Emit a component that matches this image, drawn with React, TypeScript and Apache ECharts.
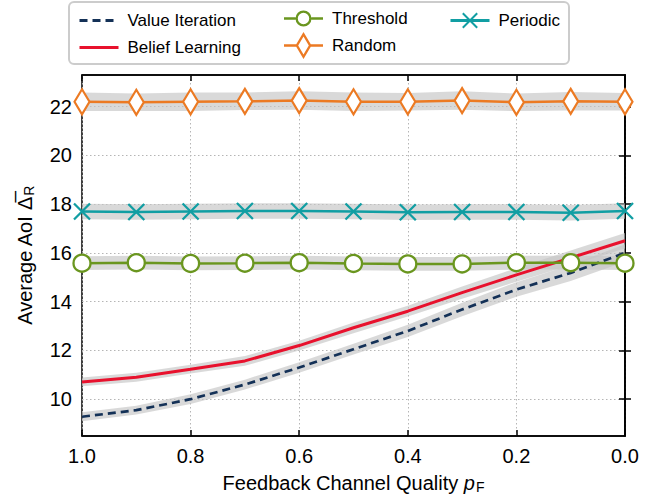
import React, { useEffect, useRef } from 'react';
import * as echarts from 'echarts';

const pF = [1.0, 0.9, 0.8, 0.7, 0.6, 0.5, 0.4, 0.3, 0.2, 0.1, 0.0];
const yTicks = [10, 12, 14, 16, 18, 20, 22];

const valueIteration = [9.28, 9.55, 10.0, 10.6, 11.3, 12.05, 12.8, 13.68, 14.5, 15.18, 16.0];
const valueIterationSpread = [0.18, 0.18, 0.2, 0.2, 0.22, 0.22, 0.25, 0.28, 0.3, 0.33, 0.36];
const beliefLearning = [10.71, 10.9, 11.23, 11.57, 12.2, 12.93, 13.61, 14.37, 15.1, 15.8, 16.5];
const beliefLearningSpread = [0.18, 0.18, 0.18, 0.2, 0.2, 0.22, 0.22, 0.25, 0.28, 0.3, 0.32];
const threshold = [15.58, 15.6, 15.57, 15.58, 15.6, 15.57, 15.55, 15.55, 15.6, 15.6, 15.58];
const thresholdSpread = [0.28, 0.28, 0.28, 0.28, 0.28, 0.28, 0.28, 0.28, 0.28, 0.28, 0.28];
const random = [22.2, 22.18, 22.2, 22.22, 22.25, 22.2, 22.2, 22.25, 22.18, 22.22, 22.2];
const randomSpread = [0.38, 0.36, 0.38, 0.36, 0.38, 0.38, 0.36, 0.38, 0.36, 0.38, 0.36];
const periodic = [17.7, 17.68, 17.7, 17.72, 17.72, 17.7, 17.67, 17.68, 17.68, 17.65, 17.72];
const periodicSpread = [0.32, 0.32, 0.32, 0.32, 0.32, 0.32, 0.32, 0.32, 0.32, 0.32, 0.32];

const FONT = 'Liberation Sans, Arial, Helvetica, sans-serif';
const C_VI = '#143157';
const C_BL = '#e8112d';
const C_TH = '#6a961f';
const C_RA = '#ec7a23';
const C_PE = '#119ea3';
const BAND = '#c4c4c4';

// legend icons (39 x 27 box): line with hollow marker
const ICON_CIRCLE =
  'path://M0,12.2L11.6,12.2L11.6,14.8L0,14.8Z M27.4,12.2L39,12.2L39,14.8L27.4,14.8Z ' +
  'M11.5,13.5A8,8 0 1,1 27.5,13.5A8,8 0 1,1 11.5,13.5Z ' +
  'M13.8,13.5A5.7,5.7 0 1,0 25.2,13.5A5.7,5.7 0 1,0 13.8,13.5Z';
const ICON_DIAMOND =
  'path://M0,12.2L12.3,12.2L12.3,14.8L0,14.8Z M26.7,12.2L39,12.2L39,14.8L26.7,14.8Z ' +
  'M19.5,0L27.5,13.5L19.5,27L11.5,13.5Z ' +
  'M19.5,4.6L14.2,13.5L19.5,22.4L24.8,13.5Z';

function band(key: string, values: number[], spread: number[]) {
  return {
    type: 'custom',
    name: key + '_band',
    silent: true,
    z: 1,
    clip: true,
    data: [[pF[0], values[0]]],
    renderItem: (_params: any, api: any) => {
      const upper = pF.map((x, i) => api.coord([x, values[i] + spread[i]]));
      const lower = pF.map((x, i) => api.coord([x, values[i] - spread[i]])).reverse();
      return {
        type: 'polygon',
        shape: { points: upper.concat(lower) },
        style: { fill: BAND, opacity: 0.65 },
      };
    },
  };
}

export default function App() {
  const ref = useRef<HTMLDivElement>(null);
  useEffect(() => {
    if (!ref.current) return;
    const chart = echarts.init(ref.current, null, { renderer: 'svg' });
    const axisLineStyle = { color: '#000', width: 1.5 };
    const tickStyle = { show: true, inside: true, length: 6, lineStyle: { color: '#000', width: 1.5 } };
    const legendCommon = {
      orient: 'vertical',
      top: 7,
      itemWidth: 39,
      itemHeight: 18,
      itemGap: 10,
      z: 10,
      lineStyle: { width: 3 },
      textStyle: { fontSize: 17, fontFamily: FONT, color: '#000', padding: [0, 0, 0, 4] },
    };
    chart.setOption({
      animation: false,
      backgroundColor: '#fff',
      textStyle: { fontFamily: FONT },
      graphic: [
        {
          type: 'rect',
          left: 68,
          top: 1,
          z: 0,
          shape: { width: 500, height: 62, r: 5 },
          style: { fill: '#fff', stroke: '#cccccc', lineWidth: 2 },
        },
      ],
      legend: [
        {
          ...legendCommon,
          left: 73,
          data: [
            { name: 'Value Iteration', itemStyle: { opacity: 0 } },
            { name: 'Belief Learning', itemStyle: { opacity: 0 } },
          ],
        },
        {
          ...legendCommon,
          left: 279,
          top: 5,
          itemHeight: 27,
          itemGap: 5,
          data: [
            { name: 'Threshold', icon: ICON_CIRCLE, itemStyle: { color: C_TH, borderWidth: 0 } },
            { name: 'Random', icon: ICON_DIAMOND, itemStyle: { color: C_RA, borderWidth: 0 } },
          ],
        },
        { ...legendCommon, left: 444, data: ['Periodic'] },
      ],
      grid: { left: 82, right: 29, top: 75, bottom: 62, show: true, borderColor: '#000', borderWidth: 1.5 },
      xAxis: [
        {
          type: 'value',
          min: 0,
          max: 1,
          interval: 0.2,
          inverse: true,
          position: 'bottom',
          axisLine: { lineStyle: axisLineStyle },
          axisTick: tickStyle,
          axisLabel: { fontSize: 20, color: '#000', margin: 10, fontFamily: FONT, formatter: (v: number) => v.toFixed(1) },
          splitLine: { show: true, lineStyle: { color: '#b5b5b5', type: [1.5, 2.5], width: 1 } },
          name: '{a|Feedback Channel Quality }{i|p}{s|F}',
          nameLocation: 'middle',
          nameGap: 36,
          nameTextStyle: {
            fontSize: 20,
            color: '#000',
            fontFamily: FONT,
            rich: {
              a: { fontSize: 20, fontFamily: FONT, color: '#000' },
              i: { fontSize: 20, fontFamily: FONT, fontStyle: 'italic', color: '#000' },
              s: { fontSize: 14, fontFamily: FONT, color: '#000', padding: [8, 0, 0, 1] },
            },
          },
        },
        {
          type: 'value',
          min: 0,
          max: 1,
          interval: 0.2,
          inverse: true,
          position: 'top',
          axisLine: { lineStyle: axisLineStyle },
          axisTick: tickStyle,
          axisLabel: { show: false },
          splitLine: { show: false },
        },
      ],
      yAxis: [
        {
          type: 'value',
          min: 8.49,
          max: 23.3,
          splitNumber: 7,
          position: 'left',
          axisLine: { show: true, lineStyle: axisLineStyle },
          axisTick: { ...tickStyle, customValues: yTicks },
          axisLabel: { fontSize: 20, color: '#000', margin: 10, fontFamily: FONT, customValues: yTicks },
          splitLine: { show: true, lineStyle: { color: '#b5b5b5', type: [1.5, 2.5], width: 1 } },
          name: '{a|Average AoI }{d|Δ\u0305}{s|R}',
          nameLocation: 'middle',
          nameGap: 46,
          nameTextStyle: {
            fontSize: 20,
            color: '#000',
            fontFamily: FONT,
            rich: {
              a: { fontSize: 20, fontFamily: FONT, color: '#000' },
              d: { fontSize: 20, fontFamily: FONT, color: '#000' },
              s: { fontSize: 14, fontFamily: FONT, color: '#000', padding: [8, 0, 0, 1] },
            },
          },
        },
        {
          type: 'value',
          min: 8.49,
          max: 23.3,
          splitNumber: 7,
          position: 'right',
          axisLine: { show: true, lineStyle: axisLineStyle },
          axisTick: { ...tickStyle, customValues: yTicks },
          axisLabel: { show: false },
          splitLine: { show: false },
        },
      ],
      series: [
        band('vi', valueIteration, valueIterationSpread),
        band('bl', beliefLearning, beliefLearningSpread),
        band('th', threshold, thresholdSpread),
        band('ra', random, randomSpread),
        band('pe', periodic, periodicSpread),
        {
          name: 'Value Iteration',
          type: 'line',
          z: 3,
          symbol: 'none',
          data: pF.map((x, i) => [x, valueIteration[i]]),
          lineStyle: { color: C_VI, width: 2.7, type: [8, 5] },
          itemStyle: { color: C_VI },
        },
        {
          name: 'Belief Learning',
          type: 'line',
          z: 3,
          symbol: 'none',
          data: pF.map((x, i) => [x, beliefLearning[i]]),
          lineStyle: { color: C_BL, width: 3 },
          itemStyle: { color: C_BL },
        },
        {
          name: 'Threshold',
          type: 'line',
          z: 3,
          symbol: 'circle',
          symbolSize: 17,
          showAllSymbol: true,
          data: pF.map((x, i) => [x, threshold[i]]),
          lineStyle: { color: C_TH, width: 2.5 },
          itemStyle: { color: '#fff', borderColor: C_TH, borderWidth: 2.3 },
        },
        {
          name: 'Random',
          type: 'line',
          z: 3,
          symbol: 'diamond',
          symbolSize: [15, 25],
          showAllSymbol: true,
          data: pF.map((x, i) => [x, random[i]]),
          lineStyle: { color: C_RA, width: 2.5 },
          itemStyle: { color: '#fff', borderColor: C_RA, borderWidth: 2.3 },
        },
        {
          name: 'Periodic',
          type: 'line',
          z: 3,
          symbol: 'path://M0,0L10,10M10,0L0,10',
          symbolSize: 16,
          showAllSymbol: true,
          data: pF.map((x, i) => [x, periodic[i]]),
          lineStyle: { color: C_PE, width: 2.5 },
          itemStyle: { color: 'rgba(0,0,0,0)', borderColor: C_PE, borderWidth: 2.3 },
        },
      ],
    });
    return () => chart.dispose();
  }, []);
  return (
    <div
      ref={ref}
      style={{ position: 'fixed', left: 0, top: 0, width: 654, height: 499, background: '#fff' }}
    />
  );
}
